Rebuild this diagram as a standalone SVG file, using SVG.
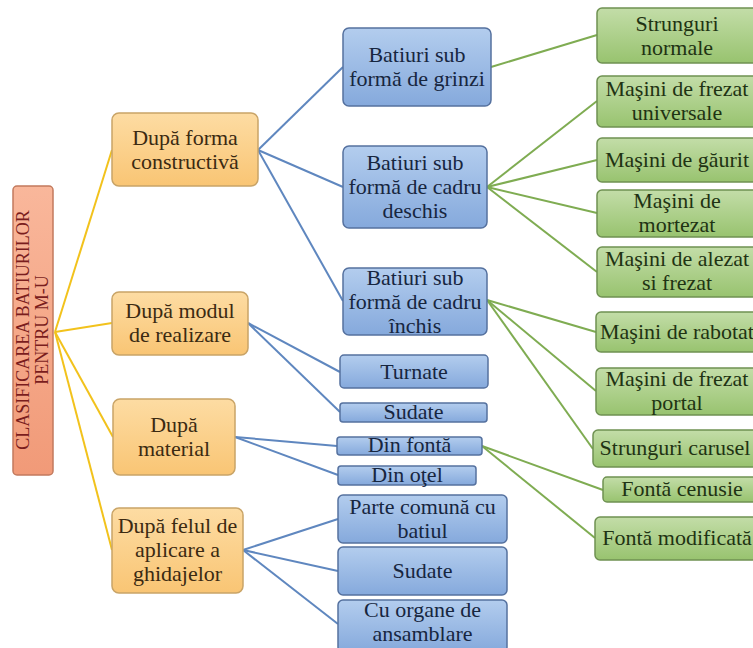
<svg xmlns="http://www.w3.org/2000/svg" width="753" height="648" viewBox="0 0 753 648">
  <defs>
    <linearGradient id="gRoot" x1="0" y1="0" x2="0" y2="1">
      <stop offset="0" stop-color="#f9b79b"/>
      <stop offset="1" stop-color="#f19a78"/>
    </linearGradient>
    <linearGradient id="gOrange" x1="0" y1="0" x2="0" y2="1">
      <stop offset="0" stop-color="#fddca3"/>
      <stop offset="1" stop-color="#f9c574"/>
    </linearGradient>
    <linearGradient id="gBlue" x1="0" y1="0" x2="0" y2="1">
      <stop offset="0" stop-color="#b3cdee"/>
      <stop offset="1" stop-color="#85a9dc"/>
    </linearGradient>
    <linearGradient id="gGreen" x1="0" y1="0" x2="0" y2="1">
      <stop offset="0" stop-color="#c3dda8"/>
      <stop offset="1" stop-color="#98c36f"/>
    </linearGradient>
  </defs>
  <style>
    text { font-family: 'Liberation Serif', 'DejaVu Serif', serif; font-size: 22px; text-anchor: middle; }
    .root rect { fill: url(#gRoot); stroke: #c27a5e; stroke-width: 1.5; }
    .root text { fill: #7a1d1d; font-size: 18px; }
    .cat rect { fill: url(#gOrange); stroke: #c9a467; stroke-width: 1.5; }
    .cat text { fill: #3b2a12; }
    .sub rect { fill: url(#gBlue); stroke: #55719f; stroke-width: 1.5; }
    .sub text { fill: #17263f; }
    .leaf rect { fill: url(#gGreen); stroke: #6f9152; stroke-width: 1.5; }
    .leaf text { fill: #1f3313; }
    .yl { stroke: #f2c21c; stroke-width: 2; fill: none; }
    .bl { stroke: #5f87bf; stroke-width: 2; fill: none; }
    .gl { stroke: #7fac52; stroke-width: 2; fill: none; }
  </style>

  <rect x="0" y="0" width="753" height="648" fill="#ffffff"/>

  <!-- connectors -->
  <g id="connectors">
    <line class="yl" x1="55" y1="332" x2="112" y2="150"/>
    <line class="yl" x1="55" y1="332" x2="112" y2="323"/>
    <line class="yl" x1="55" y1="332" x2="113" y2="437"/>
    <line class="yl" x1="55" y1="332" x2="112" y2="550"/>

    <line class="bl" x1="258" y1="150" x2="343" y2="67"/>
    <line class="bl" x1="258" y1="150" x2="343" y2="187"/>
    <line class="bl" x1="258" y1="150" x2="343" y2="301"/>
    <line class="bl" x1="248" y1="323" x2="340" y2="372"/>
    <line class="bl" x1="248" y1="323" x2="340" y2="412"/>
    <line class="bl" x1="235" y1="437" x2="337" y2="446"/>
    <line class="bl" x1="235" y1="437" x2="338" y2="475"/>
    <line class="bl" x1="243" y1="550" x2="338" y2="519"/>
    <line class="bl" x1="243" y1="550" x2="338" y2="571"/>
    <line class="bl" x1="243" y1="550" x2="338" y2="624"/>

    <line class="gl" x1="491" y1="67" x2="597" y2="35"/>
    <line class="gl" x1="487" y1="187" x2="597" y2="101"/>
    <line class="gl" x1="487" y1="187" x2="597" y2="160"/>
    <line class="gl" x1="487" y1="187" x2="597" y2="213"/>
    <line class="gl" x1="487" y1="187" x2="597" y2="272"/>
    <line class="gl" x1="487" y1="300" x2="596" y2="332"/>
    <line class="gl" x1="487" y1="300" x2="596" y2="391"/>
    <line class="gl" x1="487" y1="300" x2="593" y2="449"/>
    <line class="gl" x1="482" y1="446" x2="603" y2="490"/>
    <line class="gl" x1="482" y1="446" x2="595" y2="538"/>
  </g>

  <!-- root -->
  <g id="root" class="root">
    <rect x="13" y="186" width="40" height="289" rx="4"/>
    <text transform="translate(29,330) rotate(-90)">CLASIFICAREA BATIURILOR</text>
    <text transform="translate(48,330) rotate(-90)">PENTRU M-U</text>
  </g>

  <!-- level 1 -->
  <g id="cat-forma" class="cat">
    <rect x="112" y="113" width="146" height="73" rx="7"/>
    <text x="185" y="145">După forma</text>
    <text x="185" y="169">constructivă</text>
  </g>
  <g id="cat-modul" class="cat">
    <rect x="112" y="292" width="136" height="63" rx="7"/>
    <text x="180" y="318">După modul</text>
    <text x="180" y="342">de realizare</text>
  </g>
  <g id="cat-material" class="cat">
    <rect x="113" y="399" width="122" height="76" rx="7"/>
    <text x="174" y="432">După</text>
    <text x="174" y="456">material</text>
  </g>
  <g id="cat-ghidaje" class="cat">
    <rect x="112" y="508" width="131" height="85" rx="7"/>
    <text x="177.5" y="533">După felul de</text>
    <text x="177.5" y="557">aplicare a</text>
    <text x="177.5" y="581">ghidajelor</text>
  </g>

  <!-- level 2 -->
  <g id="sub-grinzi" class="sub">
    <rect x="343" y="28" width="148" height="78" rx="6"/>
    <text x="417" y="62">Batiuri sub</text>
    <text x="417" y="86">formă de grinzi</text>
  </g>
  <g id="sub-deschis" class="sub">
    <rect x="343" y="146" width="144" height="82" rx="6"/>
    <text x="415" y="170">Batiuri sub</text>
    <text x="415" y="194">formă de cadru</text>
    <text x="415" y="218">deschis</text>
  </g>
  <g id="sub-inchis" class="sub">
    <rect x="343" y="268" width="144" height="67" rx="6"/>
    <text x="415" y="285">Batiuri sub</text>
    <text x="415" y="309">formă de cadru</text>
    <text x="415" y="333">închis</text>
  </g>
  <g id="sub-turnate" class="sub">
    <rect x="340" y="355" width="148" height="33" rx="4"/>
    <text x="414" y="379">Turnate</text>
  </g>
  <g id="sub-sudate1" class="sub">
    <rect x="340" y="403" width="147" height="19" rx="3"/>
    <text x="413.5" y="419">Sudate</text>
  </g>
  <g id="sub-fonta" class="sub">
    <rect x="337" y="437" width="145" height="18" rx="3"/>
    <text x="409.5" y="452">Din fontă</text>
  </g>
  <g id="sub-otel" class="sub">
    <rect x="338" y="466" width="138" height="19" rx="3"/>
    <text x="407" y="482">Din oţel</text>
  </g>
  <g id="sub-comuna" class="sub">
    <rect x="338" y="495" width="169" height="48" rx="5"/>
    <text x="422.5" y="514">Parte comună cu</text>
    <text x="422.5" y="538">batiul</text>
  </g>
  <g id="sub-sudate2" class="sub">
    <rect x="338" y="547" width="169" height="48" rx="5"/>
    <text x="422.5" y="578">Sudate</text>
  </g>
  <g id="sub-organe" class="sub">
    <rect x="338" y="600" width="169" height="52" rx="5"/>
    <text x="422.5" y="617">Cu organe de</text>
    <text x="422.5" y="641">ansamblare</text>
  </g>

  <!-- level 3 -->
  <g id="leaf-strunguri" class="leaf">
    <rect x="597" y="8" width="160" height="55" rx="5"/>
    <text x="677" y="31">Strunguri</text>
    <text x="677" y="55">normale</text>
  </g>
  <g id="leaf-frezat-univ" class="leaf">
    <rect x="597" y="76" width="160" height="51" rx="5"/>
    <text x="677" y="96">Maşini de frezat</text>
    <text x="677" y="120">universale</text>
  </g>
  <g id="leaf-gaurit" class="leaf">
    <rect x="597" y="138" width="160" height="44" rx="5"/>
    <text x="677" y="167">Maşini de găurit</text>
  </g>
  <g id="leaf-mortezat" class="leaf">
    <rect x="597" y="190" width="160" height="47" rx="5"/>
    <text x="677" y="208">Maşini de</text>
    <text x="677" y="232">mortezat</text>
  </g>
  <g id="leaf-alezat" class="leaf">
    <rect x="597" y="247" width="160" height="50" rx="5"/>
    <text x="677" y="266">Maşini de alezat</text>
    <text x="677" y="290">si frezat</text>
  </g>
  <g id="leaf-rabotat" class="leaf">
    <rect x="596" y="312" width="161" height="40" rx="5"/>
    <text x="677" y="339">Maşini de rabotat</text>
  </g>
  <g id="leaf-frezat-portal" class="leaf">
    <rect x="596" y="368" width="161" height="47" rx="5"/>
    <text x="677" y="386">Maşini de frezat</text>
    <text x="677" y="410">portal</text>
  </g>
  <g id="leaf-carusel" class="leaf">
    <rect x="593" y="430" width="164" height="37" rx="5"/>
    <text x="675" y="455">Strunguri carusel</text>
  </g>
  <g id="leaf-cenusie" class="leaf">
    <rect x="603" y="477" width="158" height="25" rx="4"/>
    <text x="682" y="496">Fontă cenusie</text>
  </g>
  <g id="leaf-modificata" class="leaf">
    <rect x="595" y="517" width="162" height="43" rx="5"/>
    <text x="677" y="545">Fontă modificată</text>
  </g>
</svg>
